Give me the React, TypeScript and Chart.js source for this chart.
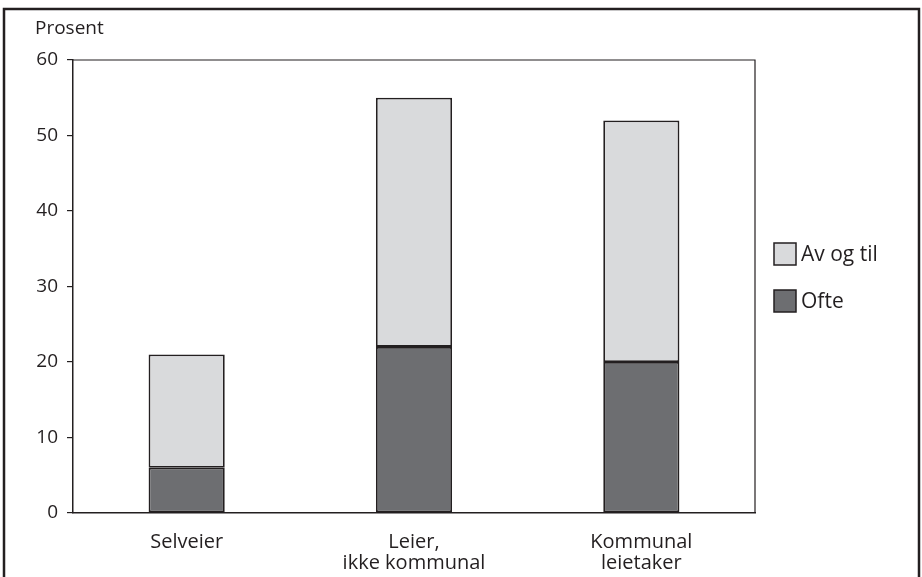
import React, { useEffect, useRef } from "react";
import { Chart, registerables } from "chart.js";

Chart.register(...registerables);

const categories: (string | string[])[] = ["Selveier", ["Leier,", "ikke kommunal"], ["Kommunal", "leietaker"]];
const ofte = [6, 22, 20];
const avOgTil = [15, 33, 32];
const yTitle = "Prosent";

const INK = "#231f20";
const FONT = "'Open Sans', 'Noto Sans', sans-serif";

const framePlugin = {
  id: "framePlugin",
  afterDraw(chart: any) {
    const { ctx, chartArea } = chart;
    ctx.save();
    ctx.strokeStyle = INK;
    ctx.lineWidth = 2.5;
    ctx.beginPath();
    ctx.moveTo(4, 600);
    ctx.lineTo(4, 9);
    ctx.lineTo(919, 9);
    ctx.lineTo(919, 600);
    ctx.stroke();
    ctx.lineWidth = 1.2;
    ctx.beginPath();
    ctx.moveTo(chartArea.left, chartArea.top);
    ctx.lineTo(chartArea.right, chartArea.top);
    ctx.lineTo(chartArea.right, chartArea.bottom);
    ctx.stroke();
    ctx.fillStyle = INK;
    ctx.font = `19px ${FONT}`;
    ctx.textAlign = "left";
    ctx.textBaseline = "middle";
    ctx.fillText(yTitle, 35, 29);
    const ds = chart.data.datasets.slice().reverse();
    ds.forEach((d: any, i: number) => {
      const y = 254 + i * 47;
      ctx.fillStyle = d.backgroundColor;
      ctx.fillRect(774, y - 11, 22, 22);
      ctx.strokeStyle = INK;
      ctx.lineWidth = 1.5;
      ctx.strokeRect(774, y - 11, 22, 22);
      ctx.fillStyle = INK;
      ctx.font = `21px ${FONT}`;
      ctx.fillText(d.label, 801, y + 1);
    });
    ctx.restore();
  },
};

export default function App() {
  const ref = useRef<HTMLCanvasElement>(null);
  useEffect(() => {
    if (!ref.current) return;
    const chart = new Chart(ref.current, {
      type: "bar",
      data: {
        labels: categories as any,
        datasets: [
          {
            label: "Ofte",
            data: ofte,
            backgroundColor: "#6d6e71",
            borderColor: INK,
            borderWidth: 1.8,
            borderSkipped: false,
          },
          {
            label: "Av og til",
            data: avOgTil,
            backgroundColor: "#d9dadc",
            borderColor: INK,
            borderWidth: 1.8,
            borderSkipped: false,
          },
        ],
      },
      options: {
        responsive: false,
        animation: false,
        devicePixelRatio: 1,
        layout: { padding: { left: 0, top: 60, right: 167, bottom: 0 } },
        datasets: { bar: { categoryPercentage: 1, barPercentage: 0.335 } },
        plugins: { legend: { display: false }, tooltip: { enabled: false }, title: { display: false } },
        scales: {
          x: {
            stacked: true,
            grid: { display: false },
            border: { display: true, color: INK, width: 1.5 },
            ticks: { color: INK, font: { family: FONT, size: 20, lineHeight: 1.05 }, padding: 11, maxRotation: 0 },
            afterFit: (s: any) => { s.height = 64; },
          },
          y: {
            stacked: true,
            min: 0,
            max: 60,
            grid: { display: true, drawOnChartArea: false, drawTicks: true, tickLength: 6, color: INK, lineWidth: 1.2 },
            border: { display: true, color: INK, width: 1.5 },
            ticks: { stepSize: 10, color: INK, font: { family: FONT, size: 19 }, padding: 9 },
            afterFit: (s: any) => { s.width = 73; },
          },
        },
      },
      plugins: [framePlugin],
    });
    return () => chart.destroy();
  }, []);
  return (
    <div style={{ position: "absolute", left: 0, top: 0, width: 922, height: 577, background: "#fff" }}>
      <canvas ref={ref} width={922} height={577} style={{ width: 922, height: 577, display: "block" }} />
    </div>
  );
}
